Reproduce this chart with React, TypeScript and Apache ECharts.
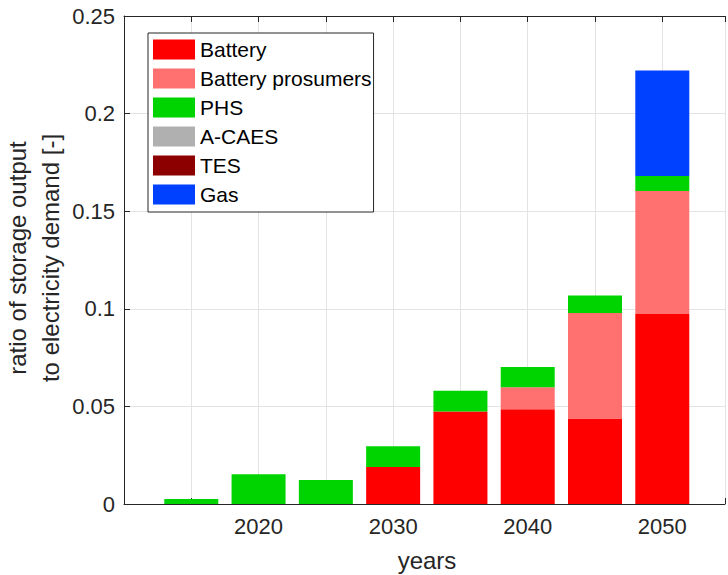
import React, { useEffect, useRef } from "react";
import * as echarts from "echarts";

const years = [2015, 2020, 2025, 2030, 2035, 2040, 2045, 2050];
const seriesNames = ["Battery", "Battery prosumers", "PHS", "A-CAES", "TES", "Gas"];
const battery = [0, 0, 0, 0.019, 0.0474, 0.0486, 0.0438, 0.0974];
const batteryProsumers = [0, 0, 0, 0, 0, 0.0112, 0.0541, 0.0629];
const phs = [0.0026, 0.0152, 0.0123, 0.0106, 0.0106, 0.0104, 0.0089, 0.0077];
const acaes = [0, 0, 0, 0, 0, 0, 0, 0];
const tes = [0, 0, 0, 0, 0, 0, 0, 0];
const gas = [0, 0, 0, 0, 0, 0, 0, 0.0541];
const seriesValues = [battery, batteryProsumers, phs, acaes, tes, gas];
const seriesColors = ["#ff0000", "#ff7171", "#00d400", "#b0b0b0", "#8c0000", "#0040ff"];
const xLabelYears = [2020, 2030, 2040, 2050];
const yTicks = [0, 0.05, 0.1, 0.15, 0.2, 0.25];

const FONT = "Liberation Sans, Arial, Helvetica, sans-serif";
const AX = "#262626";

export default function App() {
  const ref = useRef<HTMLDivElement>(null);
  useEffect(() => {
    if (!ref.current) return;
    const chart = echarts.init(ref.current, undefined, { renderer: "svg" });
    const xMin = 2010;
    const xMax = 2054.66;
    const option: any = {
      animation: false,
      backgroundColor: "#ffffff",
      textStyle: { fontFamily: FONT },
      grid: { left: 124, top: 16, right: 0, bottom: 71, containLabel: false },
      legend: {
        orient: "vertical",
        left: 148,
        top: 33,
        icon: "rect",
        itemWidth: 42,
        itemHeight: 20,
        itemGap: 8,
        padding: [6, 2, 7, 5],
        borderColor: AX,
        borderWidth: 1,
        backgroundColor: "#ffffff",
        textStyle: { fontSize: 21, color: "#000000", fontFamily: FONT, lineHeight: 20 },
        data: seriesNames,
      },
      xAxis: [
        {
          type: "value",
          min: xMin,
          max: xMax,
          interval: 5,
          axisLine: { show: true, lineStyle: { color: AX, width: 1 } },
          axisTick: { show: true, inside: true, length: 6, lineStyle: { color: AX } },
          axisLabel: {
            fontSize: 22,
            color: AX,
            margin: 11,
            fontFamily: FONT,
            formatter: (v: number) => (xLabelYears.indexOf(Math.round(v * 100) / 100) >= 0 ? String(v) : ""),
          },
          splitLine: { show: true, lineStyle: { color: "#e3e3e3", width: 1 } },
        },
        {
          type: "value",
          position: "top",
          min: xMin,
          max: xMax,
          interval: 5,
          axisLine: { show: true, onZero: false, lineStyle: { color: AX, width: 1 } },
          axisTick: { show: true, inside: true, length: 6, lineStyle: { color: AX } },
          axisLabel: { show: false },
          splitLine: { show: false },
        },
      ],
      yAxis: {
        type: "value",
        min: 0,
        max: 0.25,
        interval: 0.05,
        axisLine: { show: true, lineStyle: { color: AX, width: 1 } },
        axisTick: { show: true, inside: true, length: 6, lineStyle: { color: AX } },
        axisLabel: {
          fontSize: 22,
          color: AX,
          margin: 9,
          fontFamily: FONT,
          formatter: (v: number) => {
            const r = Math.round(v * 100) / 100;
            return yTicks.indexOf(r) >= 0 ? String(r) : "";
          },
        },
        splitLine: { show: true, lineStyle: { color: "#e3e3e3", width: 1 } },
      },
      series: seriesNames.map((name, si) => ({
        name,
        type: "bar",
        stack: "total",
        xAxisIndex: 0,
        barWidth: 54,
        itemStyle: { color: seriesColors[si] },
        encode: { x: 1, y: 0 },
        data: years.map((y, i) => [seriesValues[si][i], y]),
      })),
      graphic: [
        {
          type: "text",
          x: 34,
          y: 258,
          rotation: Math.PI / 2,
          style: {
            text: "ratio of storage output\nto electricity demand [-]",
            fontSize: 24,
            fontFamily: FONT,
            fill: AX,
            align: "center",
            verticalAlign: "middle",
            lineHeight: 33,
          },
        },
        {
          type: "text",
          x: 427,
          y: 560,
          style: {
            text: "years",
            fontSize: 24,
            fontFamily: FONT,
            fill: AX,
            align: "center",
            verticalAlign: "middle",
          },
        },
      ],
    };
    chart.setOption(option);
    return () => chart.dispose();
  }, []);
  return (
    <div
      ref={ref}
      style={{ position: "absolute", left: 0, top: 0, width: 728, height: 575 }}
    />
  );
}
